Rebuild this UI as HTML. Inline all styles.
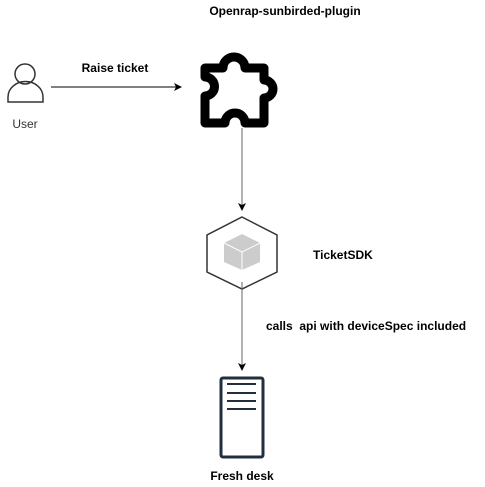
<!DOCTYPE html>
<html><head><style>
body{margin:0;background:#fff;width:485px;height:487px;overflow:hidden}
svg{position:absolute;left:0;top:0}
text{font-family:"Liberation Sans",sans-serif;font-size:12px;white-space:pre}
</style></head><body>
<svg width="485" height="487" viewBox="0 0 485 487">
<defs><marker id="a" markerWidth="8" markerHeight="8" refX="7" refY="4" orient="auto" markerUnits="userSpaceOnUse"><path d="M0,0 L8,4 L0,8 L2,4 Z" fill="#000"/></marker></defs>
<text x="285" y="15" text-anchor="middle" font-weight="bold">Openrap-sunbirded-plugin</text>
<circle cx="25" cy="74" r="10" fill="none" stroke="#333" stroke-width="1.5"/>
<path d="M8,102 V97 a17,15 0 0 1 35,0 V102 Z" fill="none" stroke="#333" stroke-width="1.5"/>
<text x="25" y="128" text-anchor="middle" fill="#333">User</text>
<line x1="51" y1="87" x2="181" y2="87" stroke="#000" marker-end="url(#a)"/>
<text x="115" y="72" text-anchor="middle" font-weight="bold">Raise ticket</text>
<path d="M205,68 H223 a11,11 0 1 1 22,0 H264 V80 a9,9 0 1 1 0,18 V123 H245 a10,10 0 1 0 -20,0 H205 V96 a9.5,9.5 0 1 0 0,-19 Z" fill="none" stroke="#000" stroke-width="9" stroke-linejoin="round"/>
<line x1="242" y1="128" x2="242" y2="210" stroke="#666" marker-end="url(#a)"/>
<path d="M242,217 L277,235 V272 L242,289 L207,272 V235 Z" fill="none" stroke="#333" stroke-width="1.5"/>
<path d="M242,234 L260,243 V262 L242,270 L224,262 V243 Z" fill="#ccc"/>
<path d="M224,243 L242,252 L260,243 M242,252 V270" stroke="#fff" stroke-width="1" fill="none"/>
<text x="313" y="259" font-weight="bold">TicketSDK</text>
<line x1="242" y1="282" x2="242" y2="370" stroke="#666" marker-end="url(#a)"/>
<text x="266" y="330" font-weight="bold">calls  api with deviceSpec included</text>
<rect x="221" y="378" width="42" height="79" rx="2" fill="none" stroke="#232f3e" stroke-width="3"/>
<g stroke="#232f3e" stroke-width="2"><line x1="227" y1="384" x2="256" y2="384"/><line x1="227" y1="393" x2="256" y2="393"/><line x1="227" y1="401" x2="256" y2="401"/><line x1="227" y1="409" x2="256" y2="409"/></g>
<text x="242" y="480" text-anchor="middle" font-weight="bold">Fresh desk</text>
</svg>
</body></html>
